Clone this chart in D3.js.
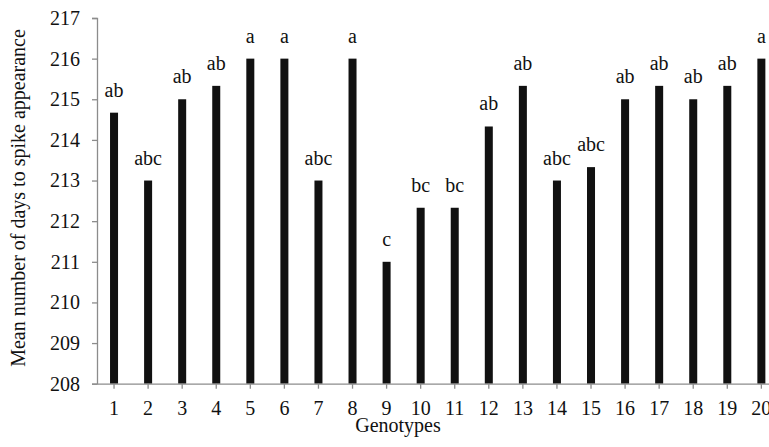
<!DOCTYPE html>
<html>
<head>
<meta charset="utf-8">
<script src="https://cdn.jsdelivr.net/npm/d3@7"></script>
<style>
  body { margin: 0; background: #fff; }
  .chart text { font-family: "Liberation Serif", "Times New Roman", serif; fill: #111; }
  .axis path, .axis line { stroke: #8c8c8c; stroke-width: 1.3; }
</style>
</head>
<body>
<div class="chart"></div>
<script>
// genotypes on the x axis
let genotypes = ["1","2","3","4","5","6","7","8","9","10","11","12","13","14","15","16","17","18","19","20"];
// mean number of days to spike appearance
let meanDays = [214.67, 213, 215, 215.33, 216, 216, 213, 216, 211, 212.33, 212.33, 214.33, 215.33, 213, 213.33, 215, 215.33, 215, 215.33, 216];
// significance letters above bars
let groups = ["ab","abc","ab","ab","a","a","abc","a","c","bc","bc","ab","ab","abc","abc","ab","ab","ab","ab","a"];
let yTicks = [208, 209, 210, 211, 212, 213, 214, 215, 216, 217];

let width = 769;
let height = 447;
let margin = { top: 18, left: 97, bottom: 63.3 };
// the plot runs past the right edge of the picture, as in the original
let plotRight = 778.4;

let svg = d3.select(".chart").append("svg")
    .attr("width", width)
    .attr("height", height);

let xScale = d3.scaleBand()
    .domain(genotypes)
    .range([margin.left, plotRight])
    .paddingInner(0)
    .paddingOuter(0);

let yScale = d3.scaleLinear()
    .domain([208, 217])
    .range([height - margin.bottom, margin.top]);

let barW = xScale.bandwidth() * 0.235;

let data = genotypes.map((g, i) => {
    return { g: g, val: meanDays[i], grp: groups[i] };
});

// bars
svg.append("g").selectAll("rect")
    .data(data)
    .enter()
    .append("rect")
    .attr("x", d => xScale(d.g) + xScale.bandwidth() / 2 - barW / 2)
    .attr("y", d => yScale(d.val))
    .attr("width", barW)
    .attr("height", d => yScale(208) - yScale(d.val))
    .attr("fill", "#111");

// letters
svg.append("g").selectAll("text")
    .data(data)
    .enter()
    .append("text")
    .attr("x", d => xScale(d.g) + xScale.bandwidth() / 2)
    .attr("y", d => yScale(d.val) - 16)
    .attr("text-anchor", "middle")
    .attr("font-size", 20)
    .text(d => d.grp);

// axes
let yAxis = svg.append("g")
    .attr("class", "axis")
    .attr("transform", `translate(${margin.left},0)`)
    .call(d3.axisLeft(yScale).tickValues(yTicks).tickSize(5).tickPadding(12).tickSizeOuter(5));

let xAxis = svg.append("g")
    .attr("class", "axis")
    .attr("transform", `translate(0,${yScale(208)})`)
    .call(d3.axisBottom(xScale).tickSize(5).tickPadding(12).tickSizeOuter(0));

svg.selectAll(".axis text")
    .attr("font-size", 20)
    .attr("font-family", "Liberation Serif, Times New Roman, serif")
    .attr("fill", "#111");

// axis titles
svg.append("text")
    .attr("x", 398)
    .attr("y", 432)
    .attr("text-anchor", "middle")
    .attr("font-size", 20)
    .text("Genotypes");

svg.append("text")
    .attr("transform", "translate(25,198) rotate(-90)")
    .attr("text-anchor", "middle")
    .attr("font-size", 20)
    .text("Mean number of days to spike appearance");
</script>
</body>
</html>
